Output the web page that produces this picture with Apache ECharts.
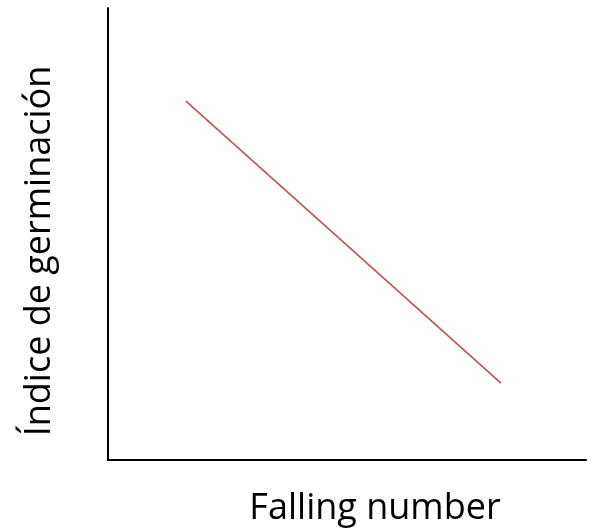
<!DOCTYPE html>
<html><head><meta charset="utf-8">
<script src="https://cdn.jsdelivr.net/npm/echarts@6/dist/echarts.min.js"></script>
<style>html,body{margin:0;padding:0;background:#fff}#c{width:593px;height:532px}</style>
</head><body><div id="c"></div>
<script>
const xName = 'Falling number';
const yName = 'Índice de germinación';
const xValues = [16.3, 82.2];
const yValues = [79.4, 17.0];
const chart = echarts.init(document.getElementById('c'));
chart.setOption({
  animation: false,
  grid: {left: 108, top: 8, right: 7, bottom: 72},
  xAxis: {
    type: 'value', min: 0, max: 100,
    name: xName, nameLocation: 'middle', nameGap: 31,
    nameTextStyle: {fontFamily: 'Open Sans', fontSize: 36, color: '#000', padding: [0, 0, 0, 56]},
    axisLine: {show: true, onZero: false, lineStyle: {color: '#000', width: 2}},
    axisTick: {show: false}, axisLabel: {show: false}, splitLine: {show: false}
  },
  yAxis: {
    type: 'value', min: 0, max: 100,
    name: yName, nameLocation: 'middle', nameGap: 50,
    nameTextStyle: {fontFamily: 'Open Sans', fontSize: 36, color: '#000', padding: [0, 34, 0, 0]},
    axisLine: {show: true, onZero: false, lineStyle: {color: '#000', width: 2}},
    axisTick: {show: false}, axisLabel: {show: false}, splitLine: {show: false}
  },
  series: [{
    type: 'line', symbol: 'none',
    data: xValues.map((x, i) => [x, yValues[i]]),
    lineStyle: {color: '#c0504d', width: 1.5}
  }]
});
</script></body></html>
